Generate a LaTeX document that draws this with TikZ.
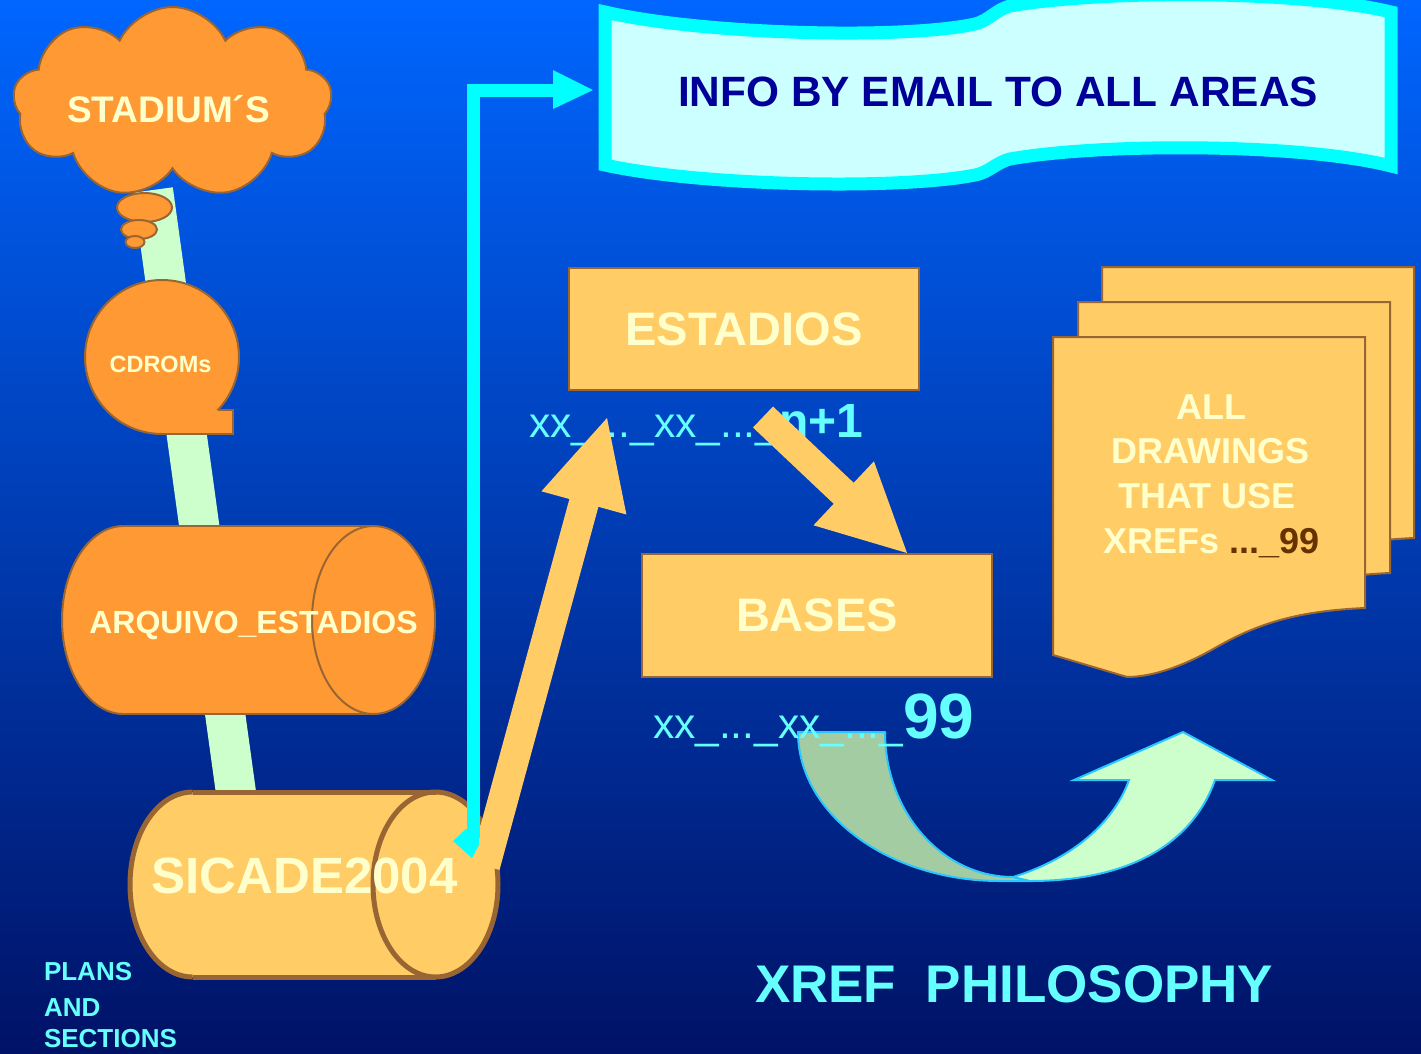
\documentclass[tikz,border=0pt]{standalone}
\usepackage{fontspec}
\setmainfont{Liberation Sans}
\usetikzlibrary{shapes.symbols}
\definecolor{bgtop}{RGB}{0,102,255}
\definecolor{bgbot}{RGB}{0,18,102}
\definecolor{stripgreen}{RGB}{204,255,204}
\definecolor{orng}{RGB}{255,153,51}
\definecolor{brn}{RGB}{153,102,51}
\definecolor{lorng}{RGB}{255,204,102}
\definecolor{txtlight}{RGB}{255,255,204}
\definecolor{txtcyan}{RGB}{102,255,255}
\definecolor{cyanc}{RGB}{0,255,255}
\definecolor{bannerfill}{RGB}{204,255,255}
\definecolor{infoblue}{RGB}{0,0,153}
\definecolor{darkband}{RGB}{163,204,163}
\definecolor{arrline}{RGB}{40,200,255}
\definecolor{brtext}{RGB}{102,51,0}
\newcommand\fz[1]{\fontsize{#1}{#1}\selectfont}
\newcommand\docshape{\draw[sheet] (1053,337) -- (1365,337) -- (1365,608) .. controls (1300,611) and (1260,622) .. (1215,648) .. controls (1180,668) and (1150,677) .. (1127,677) -- (1053,655) -- cycle;}
\begin{document}
\begin{tikzpicture}[x=1pt,y=-1pt,
  every node/.style={inner sep=0pt,outer sep=0pt},
  brd/.style={draw=brn,line width=2pt},
  bubble/.style={fill=orng,draw=brn,line width=2pt},
  boxnode/.style={fill=lorng,draw=brn,line width=2pt,text=txtlight,font=\fz{47}\bfseries,minimum width=350pt},
  sheet/.style={fill=lorng,draw=brn,line width=2pt},
  lighttext/.style={text=txtlight},
  cyantext/.style={text=txtcyan},
  sheettext/.style={text=txtlight,font=\fz{36}\bfseries,anchor=base}]
\useasboundingbox (0,0) rectangle (1421,1053);
\shade[top color=bgtop,bottom color=bgbot] (0,0) rectangle (1421,1053);

% light green strip
\coordinate (stripA) at (153,190);
\coordinate (stripB) at (237,800);
\draw[line width=40pt,stripgreen] (stripA) -- (stripB);

% cloud
\node[cloud,cloud puffs=9,cloud puff arc=130,aspect=1.67,minimum width=319pt,minimum height=191pt,fill=orng,draw=brn,line width=2pt] (cloud) at (172.5,102.5) {};
\node[lighttext,font=\fz{37}\bfseries,anchor=base] (stadium) at (168.5,122) {STADIUM´S};
\draw[bubble] (144.5,207.5) ellipse (27.5 and 14.5);
\draw[bubble] (139,229.5) ellipse (18 and 9.5);
\draw[bubble] (135,242) ellipse (9.5 and 6);

% CDROMs
\fill[orng] (162,357) circle (77);
\fill[orng] (162,410) rectangle (233,434);
\begin{scope}
\clip (0,0) -- (1421,0) -- (1421,410) -- (162,410) -- (162,1053) -- (0,1053) -- cycle;
\draw[brd] (162,357) circle (77);
\end{scope}
\draw[brd] (217.9,410) -- (233,410) -- (233,434) -- (162,434);
\node[lighttext,font=\fz{23.5}\bfseries,anchor=base] (cdroms) at (160.5,372) {CDROMs};

% ARQUIVO_ESTADIOS cylinder
\fill[orng] (123.5,526) rectangle (373.5,714);
\fill[orng] (123.5,620) ellipse (61.5 and 94);
\fill[orng] (373.5,620) ellipse (61.5 and 94);
\draw[brd] (123.5,526) -- (373.5,526) (123.5,714) -- (373.5,714);
\begin{scope}
\clip (0,500) rectangle (123.5,740);
\draw[brd] (123.5,620) ellipse (61.5 and 94);
\end{scope}
\draw[brd] (373.5,620) ellipse (61.5 and 94);
\node[lighttext,font=\fz{32}\bfseries,anchor=base] (arquivo) at (253.5,633) {ARQUIVO\_ESTADIOS};

% SICADE2004 cylinder
\fill[lorng] (192.5,792) rectangle (435.5,977);
\fill[lorng] (192.5,884.5) ellipse (62.5 and 92.5);
\fill[lorng] (435.5,884.5) ellipse (62.5 and 92.5);
\draw[draw=brn,line width=5pt] (192.5,792) -- (435.5,792) (192.5,977) -- (435.5,977);
\begin{scope}
\clip (0,760) rectangle (192.5,1000);
\draw[draw=brn,line width=5pt] (192.5,884.5) ellipse (62.5 and 92.5);
\end{scope}
\draw[draw=brn,line width=5pt] (435.5,884.5) ellipse (62.5 and 92.5);
\node[lighttext,font=\fz{51}\bfseries,anchor=base] (sicade) at (304.5,893) {SICADE2004};

% PLANS AND SECTIONS
\node[cyantext,font=\fz{26}\bfseries,anchor=base west] (plans) at (44,980) {PLANS};
\node[cyantext,font=\fz{26}\bfseries,anchor=base west] (and) at (44,1016) {AND};
\node[cyantext,font=\fz{26}\bfseries,anchor=base west] (sections) at (44,1047) {SECTIONS};

% banner
\draw[line width=13pt,cyanc,fill=bannerfill] (605,12) .. controls (700,34) and (900,40) .. (975,24) .. controls (990,20) and (995,10) .. (1010,6) .. controls (1100,-10) and (1300,-10) .. (1391,12) -- (1391,166) .. controls (1300,143) and (1100,143) .. (1010,159) .. controls (995,163) and (990,172) .. (975,175) .. controls (900,190) and (700,186) .. (605,165) -- cycle;
\node[text=infoblue,font=\fz{42.4}\bfseries,anchor=base] (info) at (998,106) {INFO BY EMAIL TO ALL AREAS};

% boxes
\node[boxnode,minimum height=122pt] (estadios) at (744,329) {ESTADIOS};
\node[boxnode,minimum height=123pt] (bases) at (817,615.5) {BASES};

% xx labels
\node[cyantext,anchor=base west] (lbl1) at (529,437) {\fz{42.5}xx\_...\_xx\_...\_{\fz{48}\bfseries n+1}};

% orange block arrows
\fill[lorng] (470.5,862.1) -- (569.4,499) -- (541.4,491.3) -- (607,418) -- (626.4,514.5) -- (598.4,506.8) -- (499.5,869.9) -- cycle;
\fill[lorng] (753,427.5) -- (833.7,503.8) -- (813.5,525.3) -- (907,553) -- (873.9,461.3) -- (853.7,482.8) -- (773,406.5) -- cycle;

% cyan connector
\coordinate (cstart) at (473,838);
\coordinate (cbend) at (473,90);
\coordinate (cend) at (556,90);
\fill[cyanc] (466,829) -- (453,841) -- (472,858) -- (479,845) -- (479,829) -- cycle;
\draw[line width=13pt,cyanc] (cstart) -- (cbend) -- (cend);
\fill[cyanc] (553,70) -- (593,90) -- (553,109) -- cycle;

% curved arrow
\draw[fill=darkband,draw=arrline,line width=2pt,line join=round] (798,732) -- (885,732) .. controls (885,812) and (942,877) .. (1013,877) -- (1030,881) -- (1000,881) .. controls (888.5,881) and (798,814) .. (798,732) -- cycle;
\draw[fill=stripgreen,draw=arrline,line width=2pt] (1013,877) .. controls (1075,858) and (1115,820) .. (1129,780) -- (1074,780) -- (1183,732) -- (1272,780) -- (1215,780) .. controls (1190,850) and (1120,881) .. (1030,881) -- cycle;
\node[cyantext,anchor=base west] (lbl2) at (653,738) {\fz{42.5}xx\_...\_xx\_...\_{\fz{64}\bfseries 99}};

% stacked sheets
\begin{scope}[shift={(49,-70)}]\docshape\end{scope}
\begin{scope}[shift={(25,-35)}]\docshape\end{scope}
\docshape
\node[sheettext] (l1) at (1211.5,419) {ALL};
\node[sheettext] (l2) at (1210.5,463) {DRAWINGS};
\node[sheettext] (l3) at (1207,508) {THAT USE};
\node[sheettext] (l4) at (1211.5,553) {XREFs {\color{brtext}..\kern-0.02em.\_99}};

% title
\node[cyantext,font=\fz{53}\bfseries,anchor=base west] (title) at (755,1002) {XREF\ \ PHILOSOPHY};
\end{tikzpicture}
\end{document}
